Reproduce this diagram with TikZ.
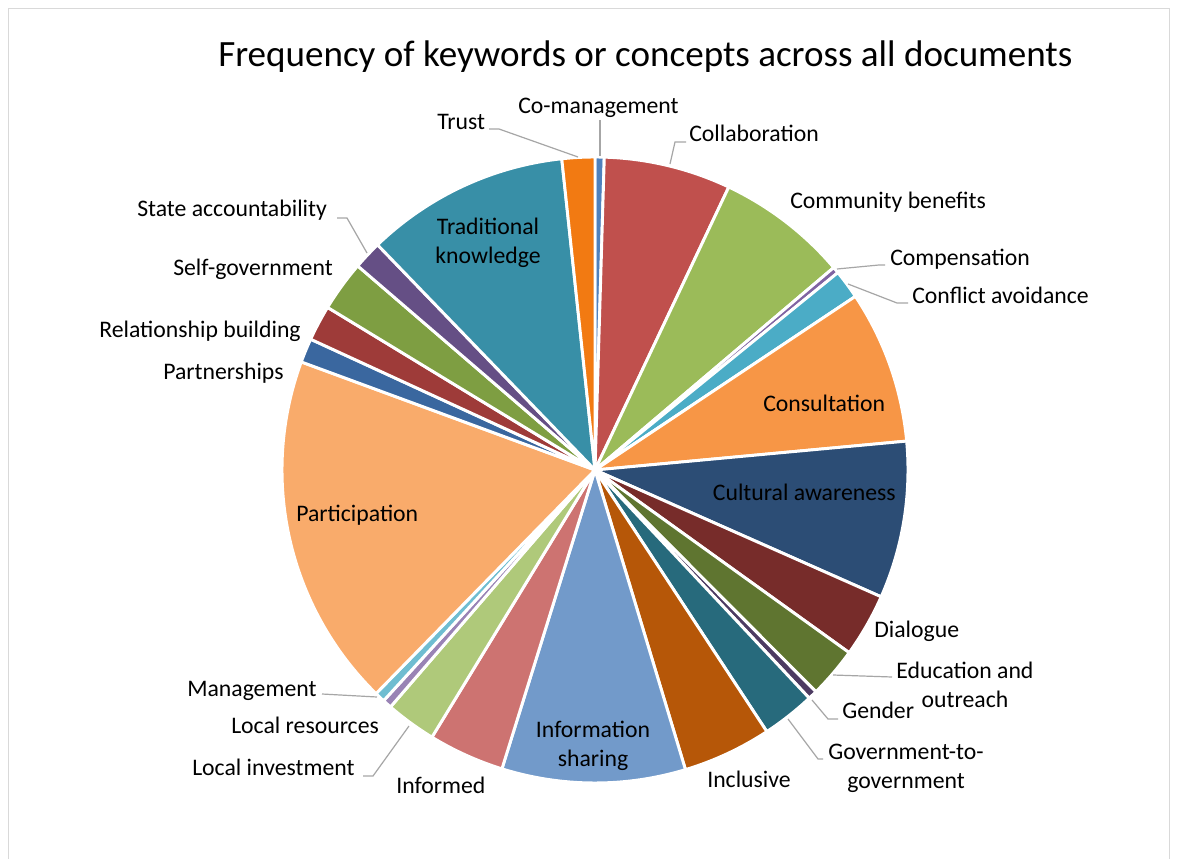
\documentclass[tikz,border=0pt]{standalone}
\usepackage{fontspec}
\setmainfont{Carlito}
\definecolor{cA}{HTML}{4F81BD}
\definecolor{cB}{HTML}{C0504D}
\definecolor{cC}{HTML}{9BBB59}
\definecolor{cD}{HTML}{8064A2}
\definecolor{cE}{HTML}{4BACC6}
\definecolor{cF}{HTML}{F79646}
\definecolor{cG}{HTML}{2C4D75}
\definecolor{cH}{HTML}{772C2A}
\definecolor{cI}{HTML}{5F7530}
\definecolor{cJ}{HTML}{4D3B62}
\definecolor{cK}{HTML}{276A7C}
\definecolor{cL}{HTML}{B65708}
\definecolor{cM}{HTML}{729ACA}
\definecolor{cN}{HTML}{CD7371}
\definecolor{cO}{HTML}{AFC97A}
\definecolor{cP}{HTML}{9983B5}
\definecolor{cQ}{HTML}{6FBDD1}
\definecolor{cR}{HTML}{F9AB6B}
\definecolor{cS}{HTML}{3A679F}
\definecolor{cT}{HTML}{9E3B39}
\definecolor{cU}{HTML}{7E9E42}
\definecolor{cV}{HTML}{654F85}
\definecolor{cW}{HTML}{388FA7}
\definecolor{cX}{HTML}{F27A12}
\definecolor{leadgray}{HTML}{A6A6A6}
\definecolor{framegray}{HTML}{D9D9D9}
\tikzset{
  lbl/.style={font=\fontsize{17.8}{21.75}\selectfont, inner sep=0pt, anchor=base west, text=black},
  clbl/.style={font=\fontsize{17.8}{21.75}\selectfont, inner sep=0pt, anchor=base, align=center, text=black},
  leader/.style={draw=leadgray, line width=0.9pt},
  slice/.style={draw=white, line width=2.2pt, line join=round},
}
\begin{document}
\begin{tikzpicture}[x=0.75pt,y=-0.75pt]
\useasboundingbox (0,0) rectangle (1177,859);
\fill[white] (0,0) rectangle (1177,859);
\draw[framegray, line width=0.75pt] (8.5,859) -- (8.5,8.5) -- (1169.5,8.5) -- (1169.5,859);
\node[font=\fontsize{27.8}{33}\selectfont, inner sep=0pt, anchor=base west] (title) at (218,67) {Frequency of keywords or concepts across all documents};
\coordinate (C) at (595,470);
\foreach \a/\b/\c in {0/1.7/cA, 1.7/25.3/cB, 25.3/49.7/cC, 49.7/50.9/cD, 50.9/56.3/cE, 56.3/84.7/cF, 84.7/113.9/cG, 113.9/125.7/cH, 125.7/135.1/cI, 135.1/136.8/cJ, 136.8/146.7/cK, 146.7/163.2/cL, 163.2/197.3/cM, 197.3/211.4/cN, 211.4/220.8/cO, 220.8/222.5/cP, 222.5/224.4/cQ, 224.4/290.2/cR, 290.2/294.7/cS, 294.7/301.3/cT, 301.3/310.7/cU, 310.7/316.0/cV, 316.0/353.9/cW, 353.9/360/cX}{
  \pgfmathsetmacro{\sa}{\a-90}
  \pgfmathsetmacro{\ea}{\b-90}
  \fill[\c, slice] (C) -- ++(\sa:313) arc[start angle=\sa, end angle=\ea, radius=313] -- cycle;
}
% inside labels (base = baseline of last line)
\node[clbl] (trad) at (488,263) {Traditional\\knowledge};
\node[lbl] (consult) at (763,411) {Consultation};
\node[lbl, anchor=base east] (cult) at (896,500) {Cultural awareness};
\node[lbl] (part) at (296,521) {Participation};
\node[clbl] (info) at (593,766) {Information\\sharing};
% outside labels
\node[lbl] (trust) at (437,130) {Trust};
\node[lbl] (comgmt) at (518,114) {Co-management};
\node[lbl] (collab) at (689,142) {Collaboration};
\node[lbl] (commben) at (790,209) {Community benefits};
\node[lbl] (comp) at (890,266) {Compensation};
\node[lbl] (conflict) at (912,303) {Conflict avoidance};
\node[lbl] (dialogue) at (874,637) {Dialogue};
\node[clbl] (edu) at (965,707) {Education and\\outreach};
\node[lbl] (gender) at (842,718) {Gender};
\node[clbl] (gov) at (906,788) {Government-to-\\government};
\node[lbl] (incl) at (707,787) {Inclusive};
\node[lbl] (informed) at (396,793) {Informed};
\node[lbl] (locinv) at (192,775) {Local investment};
\node[lbl] (locres) at (231,733) {Local resources};
\node[lbl] (mgmt) at (187,696) {Management};
\node[lbl] (partner) at (163,379) {Partnerships};
\node[lbl] (rel) at (99,337) {Relationship building};
\node[lbl] (selfgov) at (173,276) {Self-government};
\node[lbl] (state) at (137,217) {State accountability};
% leader lines: label end -> slice
\coordinate (lTrust) at (489,129);   \coordinate (pTrust) at (578,157);
\coordinate (lCo) at (600,120);      \coordinate (pCo) at (600,156);
\coordinate (lCollab) at (686,142);  \coordinate (pCollab) at (670,164);
\coordinate (lComp) at (885,265);    \coordinate (pComp) at (837,269);
\coordinate (lConf) at (908,303);    \coordinate (pConf) at (848,284);
\coordinate (lEdu) at (892,677);     \coordinate (pEdu) at (833,675);
\coordinate (lGen) at (838,719);     \coordinate (pGen) at (812,700);
\coordinate (lGov) at (823,759);     \coordinate (pGov) at (788,719);
\coordinate (lLocInv) at (363,776);  \coordinate (pLocInv) at (409,726);
\coordinate (lMgmt) at (322,694);    \coordinate (pMgmt) at (377,697);
\coordinate (lState) at (337,218);   \coordinate (pState) at (367,253);
\draw[leader] (lTrust) -- ++(10,0) -- (pTrust);
\draw[leader] (lCo) -- (pCo);
\draw[leader] (lCollab) -- ++(-11,0) -- (pCollab);
\draw[leader] (lComp) -- ++(-6,0) -- (pComp);
\draw[leader] (lConf) -- ++(-11,0) -- (pConf);
\draw[leader] (lEdu) -- (pEdu);
\draw[leader] (lGen) -- ++(-10,0) -- (pGen);
\draw[leader] (lGov) -- ++(-5,0) -- (pGov);
\draw[leader] (lLocInv) -- ++(10,0) -- (pLocInv);
\draw[leader] (lMgmt) -- (pMgmt);
\draw[leader] (lState) -- ++(10,0) -- (pState);
\end{tikzpicture}
\end{document}
